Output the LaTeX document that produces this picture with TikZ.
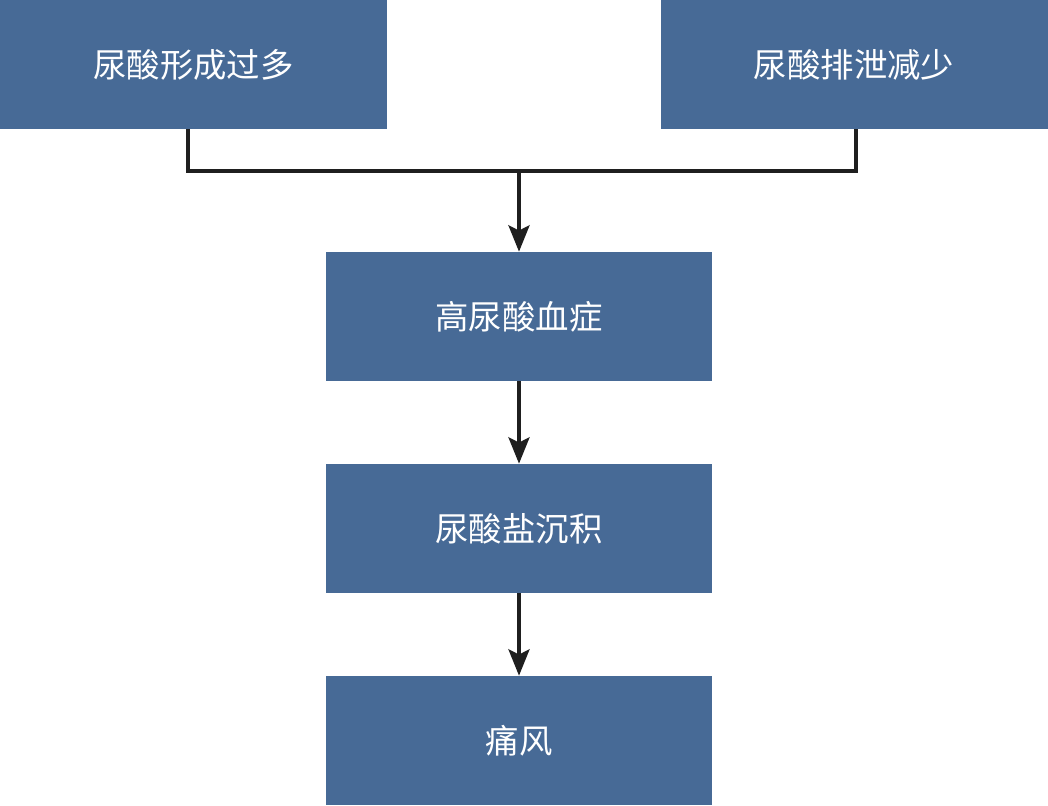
\documentclass[tikz,border=0pt]{standalone}
\usepackage{fontspec}
\newfontfamily\cjk{Noto Sans CJK SC}
\usetikzlibrary{arrows.meta}
\definecolor{boxblue}{HTML}{476A96}
\tikzset{
  blok/.style={fill=boxblue, draw=none, text=white, minimum width=7.74cm,
    minimum height=2.58cm, inner sep=0pt, font=\cjk\fontsize{19}{22}\selectfont},
  strelka/.style={line width=2pt, draw=black!88, -{Stealth[length=15pt,width=12pt,inset=3pt]}},
  liniya/.style={line width=2pt, draw=black!88}
}
\begin{document}
\begin{tikzpicture}

    % Рамка картинки
    \useasboundingbox (0,0) rectangle (20.96,-16.1);

    % Верхний ряд
    \node[blok] (obraz) at (3.87,-1.29) {尿酸形成过多};
    \node[blok] (vyved) at (17.08,-1.29) {尿酸排泄减少};

    % Средняя колонка
    \node[blok, minimum width=7.72cm] (giper) at (10.38,-6.33) {高尿酸血症};
    \node[blok, minimum width=7.72cm] (otlozh) at (10.38,-10.57) {尿酸盐沉积};
    \node[blok, minimum width=7.72cm] (podagra) at (10.38,-14.81) {痛风};

    % Точка слияния
    \coordinate (sliyanie) at (10.38,-3.42);

    % Соединительная линия сверху
    \draw[liniya] ([xshift=-0.11cm]obraz.south) |- (sliyanie);
    \draw[liniya] ([xshift=0.04cm]vyved.south) |- (sliyanie);

    % Стрелки вниз
    \draw[strelka] (sliyanie) -- (giper.north);
    \draw[strelka] (giper) -- (otlozh);
    \draw[strelka] (otlozh) -- (podagra);

\end{tikzpicture}
\end{document}
